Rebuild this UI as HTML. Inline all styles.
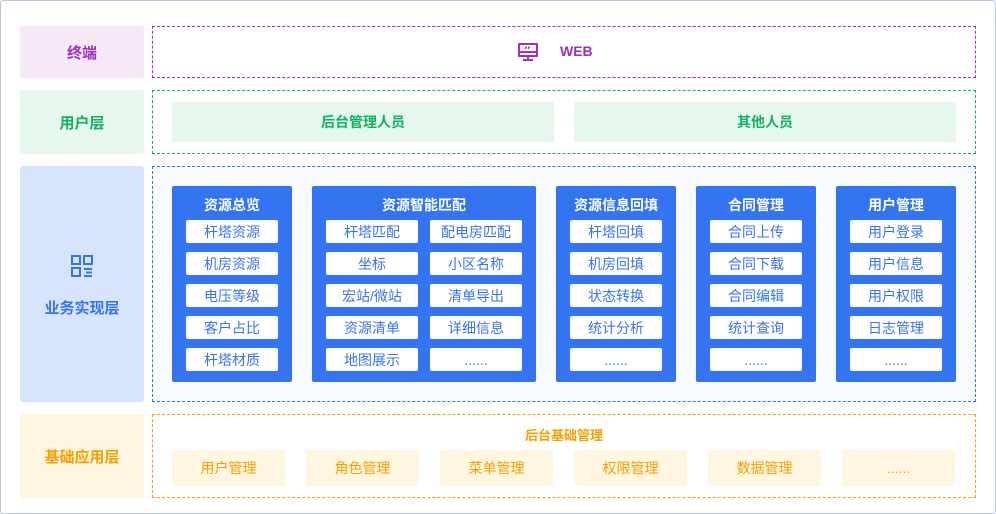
<!DOCTYPE html>
<html><head><meta charset="utf-8"><style>
*{margin:0;padding:0;box-sizing:border-box}
body{width:996px;height:514px;background:#fff;font-family:"Liberation Sans","Noto Sans CJK SC",sans-serif;position:relative;overflow:hidden}
.a{position:absolute;display:flex;align-items:center;justify-content:center}
.frame{position:absolute;left:0;top:0;width:996px;height:514px;border:1px solid #b9c8e0;border-radius:3px}
.lbl{font-weight:bold;font-size:15px;border-radius:3px}
.col{position:absolute;background:#3574f0;border-radius:2px}
.ct{position:absolute;left:0;right:0;top:9px;text-align:center;color:#fff;font-weight:bold;font-size:14px}
.it{position:absolute;background:#fff;color:#3574f0;font-size:14px;border-radius:2px;height:23px;display:flex;align-items:center;justify-content:center}
.bb{position:absolute;top:450px;width:113px;height:36px;background:#fff5e0;color:#f5a000;font-size:14px;display:flex;align-items:center;justify-content:center;border-radius:3px}
</style></head><body>
<div class="frame"></div>
<div class="a lbl" style="left:20px;top:26px;width:124px;height:52px;background:#f5e9f7;color:#9c2fb8">终端</div>
<div class="a lbl" style="left:20px;top:90px;width:124px;height:64px;background:#e6f7ee;color:#14b062">用户层</div>
<div class="lbl" style="position:absolute;left:20px;top:166px;width:124px;height:236px;background:#d6e4fc;color:#3574f0"></div>
<svg width="24" height="24" viewBox="0 0 24 24" style="position:absolute;left:70px;top:254px"><g fill="none" stroke="#3574f0" stroke-width="2"><rect x="2" y="2" width="8" height="8"/><rect x="14" y="2" width="8" height="8"/><rect x="2" y="14" width="8" height="8"/></g><g stroke="#3574f0" stroke-width="2"><line x1="14" y1="15" x2="22" y2="15"/><line x1="16" y1="18.5" x2="22" y2="18.5"/><line x1="14" y1="22" x2="22" y2="22"/></g></svg>
<div class="a lbl" style="left:20px;top:296px;width:124px;height:22px;color:#3574f0">业务实现层</div>
<div class="a lbl" style="left:20px;top:414px;width:124px;height:84px;background:#fff5e0;color:#f5a000">基础应用层</div>

<div style="position:absolute;left:152px;top:26px;width:824px;height:52px;border:1px dashed #a030c0"></div>
<svg width="22" height="20" viewBox="0 0 22 20" style="position:absolute;left:517px;top:42px"><g fill="none" stroke="#a030c0" stroke-width="2"><rect x="2" y="2" width="18" height="12"/><line x1="2" y1="10" x2="20" y2="10"/><line x1="11" y1="14" x2="11" y2="18"/><line x1="6" y1="18" x2="16" y2="18"/><line x1="8" y1="7" x2="9.5" y2="4.5" stroke-width="1.5"/><line x1="11" y1="7" x2="12.5" y2="4.5" stroke-width="1.5"/></g></svg>
<div style="position:absolute;left:560px;top:43px;color:#9c2fb8;font-weight:bold;font-size:14px">WEB</div>

<div style="position:absolute;left:152px;top:90px;width:824px;height:64px;border:1px dashed #14b062"></div>
<div class="a" style="left:172px;top:102px;width:382px;height:40px;background:#e6f7ee;color:#14b062;font-weight:bold;font-size:14px">后台管理人员</div>
<div class="a" style="left:574px;top:102px;width:382px;height:40px;background:#e6f7ee;color:#14b062;font-weight:bold;font-size:14px">其他人员</div>

<div style="position:absolute;left:152px;top:166px;width:824px;height:236px;border:1px dashed #3574f0;background:#f7faff"></div>

<div class="col" style="left:172px;top:186px;width:120px;height:196px"><div class="ct">资源总览</div>
<div class="it" style="left:14px;top:34px;width:92px">杆塔资源</div>
<div class="it" style="left:14px;top:66px;width:92px">机房资源</div>
<div class="it" style="left:14px;top:98px;width:92px">电压等级</div>
<div class="it" style="left:14px;top:130px;width:92px">客户占比</div>
<div class="it" style="left:14px;top:162px;width:92px">杆塔材质</div></div>

<div class="col" style="left:312px;top:186px;width:224px;height:196px"><div class="ct">资源智能匹配</div>
<div class="it" style="left:14px;top:34px;width:92px">杆塔匹配</div>
<div class="it" style="left:118px;top:34px;width:92px">配电房匹配</div>
<div class="it" style="left:14px;top:66px;width:92px">坐标</div>
<div class="it" style="left:118px;top:66px;width:92px">小区名称</div>
<div class="it" style="left:14px;top:98px;width:92px">宏站/微站</div>
<div class="it" style="left:118px;top:98px;width:92px">清单导出</div>
<div class="it" style="left:14px;top:130px;width:92px">资源清单</div>
<div class="it" style="left:118px;top:130px;width:92px">详细信息</div>
<div class="it" style="left:14px;top:162px;width:92px">地图展示</div>
<div class="it" style="left:118px;top:162px;width:92px">......</div></div>

<div class="col" style="left:556px;top:186px;width:120px;height:196px"><div class="ct">资源信息回填</div>
<div class="it" style="left:14px;top:34px;width:92px">杆塔回填</div>
<div class="it" style="left:14px;top:66px;width:92px">机房回填</div>
<div class="it" style="left:14px;top:98px;width:92px">状态转换</div>
<div class="it" style="left:14px;top:130px;width:92px">统计分析</div>
<div class="it" style="left:14px;top:162px;width:92px">......</div></div>

<div class="col" style="left:696px;top:186px;width:120px;height:196px"><div class="ct">合同管理</div>
<div class="it" style="left:14px;top:34px;width:92px">合同上传</div>
<div class="it" style="left:14px;top:66px;width:92px">合同下载</div>
<div class="it" style="left:14px;top:98px;width:92px">合同编辑</div>
<div class="it" style="left:14px;top:130px;width:92px">统计查询</div>
<div class="it" style="left:14px;top:162px;width:92px">......</div></div>

<div class="col" style="left:836px;top:186px;width:120px;height:196px"><div class="ct">用户管理</div>
<div class="it" style="left:14px;top:34px;width:92px">用户登录</div>
<div class="it" style="left:14px;top:66px;width:92px">用户信息</div>
<div class="it" style="left:14px;top:98px;width:92px">用户权限</div>
<div class="it" style="left:14px;top:130px;width:92px">日志管理</div>
<div class="it" style="left:14px;top:162px;width:92px">......</div></div>

<div style="position:absolute;left:152px;top:414px;width:824px;height:84px;border:1px dashed #f5a000"></div>
<div class="a" style="left:152px;top:424px;width:824px;height:20px;color:#f5a000;font-weight:bold;font-size:13px">后台基础管理</div>
<div class="bb" style="left:172px">用户管理</div>
<div class="bb" style="left:306px">角色管理</div>
<div class="bb" style="left:440px">菜单管理</div>
<div class="bb" style="left:574px">权限管理</div>
<div class="bb" style="left:708px">数据管理</div>
<div class="bb" style="left:842px">......</div>
</body></html>
